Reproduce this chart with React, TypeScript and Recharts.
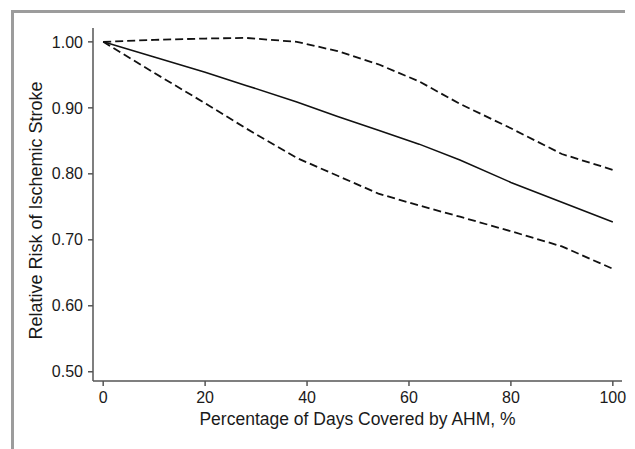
import React from "react";
import { LineChart, Line, XAxis, YAxis, Label } from "recharts";

// percentage of days covered (x) and relative risk estimates with 95% CI
const pdc = [0, 10, 20, 28, 38, 46, 54, 62, 70, 80, 90, 100];
const estimate = [1.0, 0.977, 0.954, 0.934, 0.909, 0.887, 0.866, 0.845, 0.821, 0.787, 0.757, 0.727];
const upperCI = [1.0, 1.003, 1.005, 1.006, 1.0, 0.986, 0.966, 0.94, 0.906, 0.869, 0.83, 0.806];
const lowerCI = [1.0, 0.953, 0.907, 0.869, 0.824, 0.797, 0.77, 0.752, 0.735, 0.713, 0.69, 0.656];

const xTicks = [0, 20, 40, 60, 80, 100];
const yTicks = [0.5, 0.6, 0.7, 0.8, 0.9, 1.0];

const data = pdc.map((x, i) => ({
  x,
  est: estimate[i],
  lo: lowerCI[i],
  hi: upperCI[i],
}));

const axisColor = "#555";
const font = "'Liberation Sans', Arial, Helvetica, sans-serif";
const tickStyle = { fontSize: 16, fill: "#1a1a1a", fontFamily: font };
const titleStyle = { fontSize: 17.5, fill: "#1a1a1a", fontFamily: font };

const App: React.FC = () => {
  return (
    <div style={{ position: "absolute", left: 0, top: 0, width: 635, height: 449, background: "#fff" }}>
      <div
        style={{
          position: "absolute",
          left: 11,
          top: 10,
          width: 614,
          height: 439,
          borderTop: "3px solid #9c9c9c",
          borderLeft: "3px solid #9c9c9c",
          boxSizing: "border-box",
        }}
      />
      <div style={{ position: "absolute", left: 0, top: 0 }}>
        <LineChart
          width={635}
          height={449}
          data={data}
          margin={{ top: 28, right: 13, bottom: 0, left: 0 }}
          style={{ fontFamily: font }}
        >
          <XAxis
            dataKey="x"
            type="number"
            domain={[-2, 101.8]}
            ticks={xTicks}
            allowDataOverflow
            height={68}
            tickSize={5}
            tickMargin={6}
            stroke={axisColor}
            strokeWidth={1.5}
            tick={tickStyle}
          >
            <Label
              value="Percentage of Days Covered by AHM, %"
              position="insideBottom"
              offset={24}
              style={titleStyle}
            />
          </XAxis>
          <XAxis
            xAxisId="top"
            dataKey="x"
            type="number"
            domain={[-2, 101.8]}
            orientation="top"
            height={0}
            tick={false}
            tickLine={false}
            stroke={axisColor}
            strokeWidth={1.5}
          />
          <YAxis
            type="number"
            domain={[0.486, 1.021]}
            ticks={yTicks}
            allowDataOverflow
            width={93}
            tickSize={5}
            tickMargin={5}
            stroke={axisColor}
            strokeWidth={1.5}
            tick={tickStyle}
            tickFormatter={(v: number) => v.toFixed(2)}
          >
            <Label
              value="Relative Risk of Ischemic Stroke"
              angle={-90}
              position="center"
              dx={-11}
              dy={6}
              style={{ ...titleStyle, fontSize: 18, textAnchor: "middle" }}
            />
          </YAxis>
          <YAxis
            yAxisId="right"
            type="number"
            domain={[0.486, 1.021]}
            orientation="right"
            width={0}
            tick={false}
            tickLine={false}
            stroke={axisColor}
            strokeWidth={1.5}
          />
          <Line
            type="linear"
            dataKey="hi"
            stroke="#111"
            strokeWidth={1.8}
            strokeDasharray="8 4"
            dot={false}
            isAnimationActive={false}
          />
          <Line
            type="linear"
            dataKey="est"
            stroke="#111"
            strokeWidth={1.6}
            dot={false}
            isAnimationActive={false}
          />
          <Line
            type="linear"
            dataKey="lo"
            stroke="#111"
            strokeWidth={1.8}
            strokeDasharray="8 4"
            dot={false}
            isAnimationActive={false}
          />
        </LineChart>
      </div>
    </div>
  );
};

export default App;
